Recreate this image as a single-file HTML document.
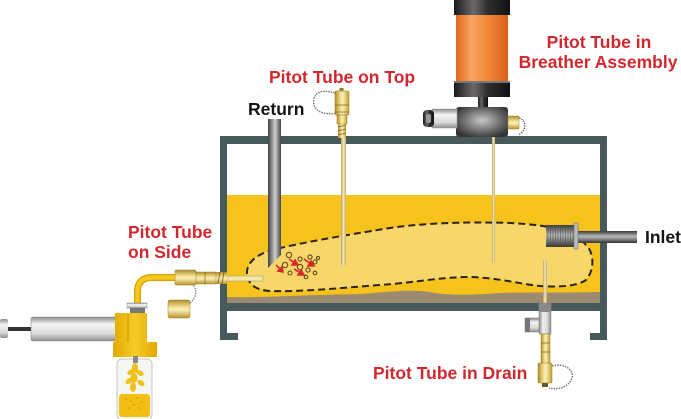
<!DOCTYPE html>
<html><head><meta charset="utf-8"><style>
html,body{margin:0;padding:0;background:#fff;}
svg{display:block;}
text{font-family:"Liberation Sans",Arial,sans-serif;font-weight:bold;font-size:17.5px;}
</style></head><body>
<svg width="681" height="419" viewBox="0 0 681 419" xmlns="http://www.w3.org/2000/svg">
<defs>
 <linearGradient id="gp" x1="0" x2="1" y1="0" y2="0">
  <stop offset="0" stop-color="#3e3e3e"/><stop offset="0.45" stop-color="#b8b8b8"/><stop offset="0.55" stop-color="#cfcfcf"/><stop offset="1" stop-color="#444"/>
 </linearGradient>
 <linearGradient id="gpv" x1="0" x2="0" y1="0" y2="1">
  <stop offset="0" stop-color="#3a3a3a"/><stop offset="0.45" stop-color="#b8b8b8"/><stop offset="0.6" stop-color="#9a9a9a"/><stop offset="1" stop-color="#333"/>
 </linearGradient>
 <linearGradient id="br" x1="0" x2="1" y1="0" y2="0">
  <stop offset="0" stop-color="#b08e2a"/><stop offset="0.4" stop-color="#f2e094"/><stop offset="0.55" stop-color="#fbefb8"/><stop offset="1" stop-color="#c29e34"/>
 </linearGradient>
 <linearGradient id="brv" x1="0" x2="0" y1="0" y2="1">
  <stop offset="0" stop-color="#b08e2a"/><stop offset="0.4" stop-color="#f2e094"/><stop offset="0.55" stop-color="#fbefb8"/><stop offset="1" stop-color="#b8952e"/>
 </linearGradient>
 <linearGradient id="tan" x1="0" x2="1" y1="0" y2="0">
  <stop offset="0" stop-color="#b9a060"/><stop offset="0.5" stop-color="#f5e9bb"/><stop offset="1" stop-color="#c2aa6a"/>
 </linearGradient>
 <linearGradient id="or" x1="0" x2="1" y1="0" y2="0">
  <stop offset="0" stop-color="#e2691c"/><stop offset="0.3" stop-color="#f8a464"/><stop offset="0.6" stop-color="#f3893a"/><stop offset="1" stop-color="#d95f18"/>
 </linearGradient>
 <linearGradient id="bk" x1="0" x2="1" y1="0" y2="0">
  <stop offset="0" stop-color="#1a1a1a"/><stop offset="0.35" stop-color="#6a6a6a"/><stop offset="0.6" stop-color="#2e2e2e"/><stop offset="1" stop-color="#111"/>
 </linearGradient>
 <linearGradient id="sv" x1="0" x2="0" y1="0" y2="1">
  <stop offset="0" stop-color="#8a8a8a"/><stop offset="0.3" stop-color="#f4f4f4"/><stop offset="0.7" stop-color="#dadada"/><stop offset="1" stop-color="#8e8e8e"/>
 </linearGradient>
 <linearGradient id="svh" x1="0" x2="1" y1="0" y2="0">
  <stop offset="0" stop-color="#8a8a8a"/><stop offset="0.35" stop-color="#f2f2f2"/><stop offset="0.7" stop-color="#d6d6d6"/><stop offset="1" stop-color="#888"/>
 </linearGradient>
 <linearGradient id="yl" x1="0" x2="1" y1="0" y2="0">
  <stop offset="0" stop-color="#e3aa00"/><stop offset="0.5" stop-color="#f6cb26"/><stop offset="1" stop-color="#e1a900"/>
 </linearGradient>
 <radialGradient id="hs" cx="0.5" cy="0.45" r="0.6">
  <stop offset="0" stop-color="#c8c8c8"/><stop offset="0.6" stop-color="#6e6e6e"/><stop offset="1" stop-color="#353535"/>
 </radialGradient>
 <pattern id="rib" width="2.5" height="30" patternUnits="userSpaceOnUse">
  <rect width="1" height="30" fill="#4a4a4a" opacity="0.55"/>
 </pattern>
</defs>

<!-- tank contents -->
<rect x="227" y="195" width="373" height="108" fill="#f6c21c"/>
<path d="M227,297 C260,298 300,295 360,294 C390,292 405,289 430,292 C450,296 470,295 500,293 C530,292 560,293 600,292 L600,303 L227,303 Z" fill="#9c8b70"/>
<path d="M247,274 C246,262 258,254 272,250 C300,243 340,236 390,228 C430,222 480,222 510,223 C530,224 548,226 560,230 C575,236 582,240 586,245 C594,252 595,270 586,280 C576,287 556,287 540,286 C520,284 500,278 470,277 C440,277 420,282 380,285 C340,288 300,292 270,291 C255,290 248,284 247,274 Z" fill="#f8d76a" stroke="#2a2418" stroke-width="2" stroke-dasharray="7,4"/>

<!-- bubbles -->
<g fill="none" stroke="#5a4820" stroke-width="1.1">
 <circle cx="289" cy="255" r="2.7"/><circle cx="285" cy="265" r="2.7"/><circle cx="300" cy="259" r="2.1"/>
 <circle cx="310" cy="257" r="2.1"/><circle cx="315" cy="262" r="2"/><circle cx="300" cy="267" r="2.7"/>
 <circle cx="308" cy="270" r="2.1"/><circle cx="315" cy="273" r="1.8"/><circle cx="290" cy="273" r="2"/>
 <circle cx="306" cy="277" r="1.8"/><circle cx="318" cy="258" r="1.6"/>
</g>
<g stroke="#d8262a" stroke-width="1.6" fill="#d8262a">
 <line x1="276" y1="265" x2="281" y2="270"/><path d="M283,272 L278,271 L282,267 Z"/>
 <line x1="289" y1="259" x2="295" y2="263"/><path d="M298,265 L292,265 L295,260 Z"/>
 <line x1="294" y1="269" x2="301" y2="273"/><path d="M304,275 L298,275 L301,270 Z"/>
 <line x1="304" y1="259" x2="311" y2="264"/><path d="M314,266 L308,266 L311,261 Z"/>
</g>

<!-- frame -->
<g fill="#475a5b">
 <rect x="220" y="136" width="387" height="8"/>
 <rect x="220" y="136" width="7" height="204"/>
 <rect x="600" y="136" width="7" height="204"/>
 <rect x="220" y="303" width="387" height="8"/>
 <rect x="220" y="333" width="18" height="7"/>
 <rect x="590" y="333" width="17" height="7"/>
</g>

<!-- return pipe -->
<path d="M268,119 L281,119 L281,255 L268,268 Z" fill="url(#gp)"/>

<!-- pitot on top -->
<rect x="341" y="137" width="5" height="128" fill="url(#tan)"/>
<path d="M335,93 C318,88 312,95 314,105 C316,113 328,115 336,113" fill="none" stroke="#777" stroke-width="1.4" stroke-dasharray="1.6,1"/>
<rect x="339.5" y="88" width="4" height="4" fill="#9a7d20"/>
<rect x="335" y="91" width="14" height="24" rx="1" fill="url(#br)" stroke="#9a7d20" stroke-width="0.5"/>
<line x1="335" y1="105" x2="349" y2="105" stroke="#8a6e18" stroke-width="0.8"/>
<line x1="335" y1="112" x2="349" y2="112" stroke="#8a6e18" stroke-width="0.8"/>
<rect x="337" y="115" width="10" height="9" fill="url(#br)" stroke="#9a7d20" stroke-width="0.5"/>
<rect x="338" y="124" width="8" height="14" fill="url(#br)"/>
<g stroke="#7a6018" stroke-width="0.8"><line x1="338" y1="127" x2="346" y2="125"/><line x1="338" y1="131" x2="346" y2="129"/><line x1="338" y1="135" x2="346" y2="133"/></g>

<!-- breather -->
<rect x="492" y="137" width="3" height="126" fill="url(#tan)"/>
<rect x="454" y="0" width="56" height="15" fill="url(#bk)"/>
<rect x="456" y="15" width="52" height="66" fill="url(#or)"/>
<rect x="454" y="81" width="56" height="16" fill="url(#bk)"/>
<rect x="454" y="81" width="56" height="2" fill="#777"/>
<rect x="478" y="97" width="10" height="11" fill="url(#bk)"/>
<rect x="456" y="107" width="52" height="30" rx="3" fill="url(#hs)"/>
<rect x="432" y="109" width="25" height="19" fill="url(#sv)" stroke="#999" stroke-width="0.5"/>
<rect x="423" y="110" width="11" height="17" rx="4" fill="url(#bk)"/>
<rect x="426" y="114" width="5" height="9" rx="2" fill="#999"/>
<path d="M519,118 C527,120 527,131 518,135" fill="none" stroke="#555" stroke-width="1.2" stroke-dasharray="1.5,1"/>
<rect x="508" y="116" width="11" height="13" fill="url(#brv)" stroke="#a88a30" stroke-width="0.5"/>

<!-- inlet -->
<rect x="575" y="231" width="62" height="12" fill="url(#gpv)"/>
<rect x="546" y="225" width="31" height="22" fill="url(#gpv)"/>
<rect x="546" y="225" width="31" height="22" fill="url(#rib)"/>
<rect x="574" y="223" width="4" height="26" fill="#bbb" stroke="#666" stroke-width="0.5"/>

<!-- drain -->
<rect x="543" y="260" width="4" height="43" fill="url(#tan)"/>
<rect x="539" y="303" width="12" height="31" fill="url(#svh)" stroke="#888" stroke-width="0.5"/>
<rect x="539" y="303" width="12" height="9" fill="#888"/>
<rect x="525" y="318" width="14" height="14" fill="url(#sv)" stroke="#777" stroke-width="0.5"/>
<rect x="525" y="318" width="5" height="14" fill="#777"/>
<rect x="541" y="334" width="9" height="30" fill="url(#br)" stroke="#9a7d20" stroke-width="0.5"/>
<line x1="541" y1="343" x2="550" y2="343" stroke="#8a6e18" stroke-width="0.8"/>
<line x1="541" y1="352" x2="550" y2="352" stroke="#8a6e18" stroke-width="0.8"/>
<path d="M552,366 C566,362 576,372 571,380 C567,388 557,390 549,388" fill="none" stroke="#777" stroke-width="1.4" stroke-dasharray="1.6,1"/>
<rect x="538" y="363" width="14" height="20" rx="1" fill="url(#br)" stroke="#9a7d20" stroke-width="0.5"/>
<rect x="542" y="383" width="6" height="4" fill="#6a5a20"/>

<!-- pitot on side -->
<rect x="227" y="276" width="36" height="5" fill="#f3e6ae" stroke="#b8a060" stroke-width="0.6"/>
<rect x="215" y="272" width="12" height="12" fill="url(#brv)"/>
<g stroke="#7a6018" stroke-width="0.8"><line x1="218" y1="284" x2="220" y2="272"/><line x1="222" y1="284" x2="224" y2="272"/></g>
<rect x="195" y="272" width="21" height="12" fill="url(#brv)" stroke="#9a7d20" stroke-width="0.5"/>
<line x1="205" y1="272" x2="205" y2="284" stroke="#8a6e18" stroke-width="0.8"/>
<path d="M176,277.5 L152,277.5 Q137.5,277.5 137.5,292 L137.5,304" fill="none" stroke="#d9a300" stroke-width="7"/>
<path d="M176,277.5 L152,277.5 Q137.5,277.5 137.5,292 L137.5,304" fill="none" stroke="#f6c81e" stroke-width="4.5"/>
<rect x="175" y="270" width="21" height="15" rx="1" fill="url(#brv)" stroke="#9a7d20" stroke-width="0.5"/>
<path d="M190,303 C197,297 197,290 193,285" fill="none" stroke="#888" stroke-width="1.3" stroke-dasharray="1.6,1"/>
<rect x="168" y="300" width="22" height="18" rx="2" fill="url(#brv)" stroke="#9a7d20" stroke-width="0.5"/>

<!-- sampler -->
<rect x="8" y="327" width="23" height="4" fill="#333"/>
<rect x="0" y="319" width="8" height="19" rx="2" fill="url(#sv)"/>
<rect x="31" y="317" width="87" height="24" rx="2" fill="url(#sv)" stroke="#888" stroke-width="0.6"/>
<rect x="127" y="303" width="20" height="5" fill="url(#sv)" stroke="#888" stroke-width="0.5"/>
<rect x="130" y="308" width="15" height="5" fill="#777"/>
<path d="M115,313 L147,313 L147,342 L157,342 L157,357 L113,357 L113,342 L115,342 Z" fill="url(#yl)"/>
<line x1="128" y1="314" x2="128" y2="342" stroke="#d09a00" stroke-width="1.2"/>
<rect x="117" y="359" width="35" height="61" rx="5" fill="#f6f6f2" stroke="#c4c4c4" stroke-width="1"/>
<rect x="119" y="394" width="31" height="23" rx="3" fill="#f4bf14"/>
<rect x="133" y="356" width="5" height="7" fill="#888"/>
<g fill="#f2c01a">
 <ellipse cx="135" cy="368" rx="3" ry="5"/>
 <ellipse cx="131" cy="372" rx="4" ry="2.5" transform="rotate(-30 131 372)"/>
 <ellipse cx="140" cy="373" rx="4" ry="2.5" transform="rotate(30 140 373)"/>
 <ellipse cx="134" cy="378" rx="3.5" ry="5"/>
 <ellipse cx="129" cy="381" rx="4" ry="2.5" transform="rotate(-35 129 381)"/>
 <ellipse cx="141" cy="383" rx="4" ry="2.5" transform="rotate(35 141 383)"/>
 <ellipse cx="133" cy="387" rx="3" ry="5"/>
</g>
<g fill="#c58e00">
 <circle cx="126" cy="399" r="0.8"/><circle cx="131" cy="401" r="0.8"/><circle cx="137" cy="398" r="0.8"/><circle cx="142" cy="402" r="0.8"/><circle cx="134" cy="405" r="0.8"/><circle cx="129" cy="408" r="0.8"/><circle cx="139" cy="408" r="0.8"/>
</g>

<!-- labels -->
<text x="248" y="115" fill="#141414">Return</text>
<text x="645" y="243" fill="#141414">Inlet</text>
<g fill="#d1282e">
 <text x="269" y="83">Pitot Tube on Top</text>
 <text x="599" y="48" text-anchor="middle">Pitot Tube in</text>
 <text x="598" y="68" text-anchor="middle">Breather Assembly</text>
 <text x="128" y="238">Pitot Tube</text>
 <text x="128" y="258">on Side</text>
 <text x="373" y="379">Pitot Tube in Drain</text>
</g>
</svg>
</body></html>
